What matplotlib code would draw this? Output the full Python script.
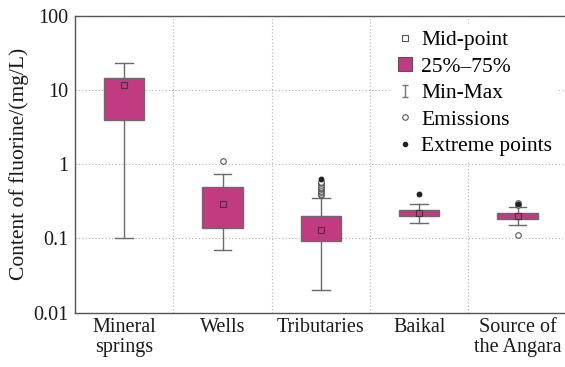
import matplotlib
matplotlib.use("Agg")
import matplotlib.pyplot as plt
from matplotlib.lines import Line2D
from matplotlib.path import Path

plt.rcParams['font.family'] = ['Liberation Serif', 'DejaVu Serif']

categories = ["Mineral\nsprings", "Wells", "Tributaries", "Baikal", "Source of\nthe Angara"]
q1 = [4.0, 0.136, 0.091, 0.20, 0.185]
q3 = [14.8, 0.50, 0.20, 0.24, 0.22]
midpoint = [11.9, 0.294, 0.128, 0.22, 0.20]
vmin = [0.10, 0.069, 0.020, 0.16, 0.15]
vmax = [23.4, 0.75, 0.35, 0.29, 0.265]
emissions = [[], [1.12],
             [0.38, 0.40, 0.42, 0.44, 0.46, 0.48, 0.50, 0.52, 0.55, 0.58],
             [], [0.28, 0.30, 0.11]]
extremes = [[], [], [0.63], [0.40], [0.29]]

box_color = "#C13A82"
edge_color = "#6a6a6a"

fig = plt.figure(figsize=(5.65, 3.67), dpi=100)
ax = fig.add_axes([75 / 565, 1 - 312.5 / 367, 1 - 75 / 565 + 0.003, 296.5 / 367])

stats = []
for i in range(len(categories)):
    stats.append(dict(med=midpoint[i], mean=midpoint[i], q1=q1[i], q3=q3[i],
                      whislo=vmin[i], whishi=vmax[i], fliers=emissions[i]))

positions = list(range(1, len(categories) + 1))
ax.bxp(stats, positions=positions, widths=0.41, capwidths=0.18,
       showmeans=True, patch_artist=True,
       boxprops=dict(facecolor=box_color, edgecolor=edge_color, linewidth=1.0),
       whiskerprops=dict(color=edge_color, linewidth=1.0),
       capprops=dict(color=edge_color, linewidth=1.0),
       medianprops=dict(linewidth=0),
       meanprops=dict(marker='s', markersize=4.5, markerfacecolor=box_color,
                      markeredgecolor="#3a3a3a", markeredgewidth=0.8),
       flierprops=dict(marker='o', markersize=4, markerfacecolor='white',
                       markeredgecolor="#555555", markeredgewidth=0.8),
       zorder=3)

for i, pts in enumerate(extremes):
    if pts:
        ax.plot([positions[i]] * len(pts), pts, linestyle='none', marker='o',
                markersize=3.2, color="#222222", zorder=4)

ax.set_yscale('log')
ax.set_ylim(0.01, 100)
ax.set_xlim(0.5, len(categories) + 0.5)
ax.set_yticks([0.01, 0.1, 1, 10, 100])
ax.set_yticklabels(["0.01", "0.1", "1", "10", "100"])
ax.yaxis.set_minor_locator(matplotlib.ticker.NullLocator())
ax.set_xticks(positions)
ax.set_xticklabels(categories, linespacing=1.05)
ax.set_xticks([p + 0.5 for p in positions[:-1]], minor=True)
ax.tick_params(axis='both', which='both', length=0, labelsize=14.5, colors='#1a1a1a')
ax.tick_params(axis='x', pad=4)
ax.tick_params(axis='y', pad=5)

ax.grid(True, axis='y', which='major', linestyle=(0, (1, 2)), color='#b5b5b5', linewidth=0.8)
ax.grid(True, axis='x', which='minor', linestyle=(0, (1, 2)), color='#b5b5b5', linewidth=0.8)
ax.grid(False, axis='x', which='major')
ax.set_axisbelow(True)

for side in ['left', 'bottom', 'top', 'right']:
    ax.spines[side].set_color('#555555')
    ax.spines[side].set_linewidth(1.0)

ax.set_ylabel("Content of fluorine/(mg/L)", fontsize=15.5, color='#1a1a1a', labelpad=3)

cap_path = Path([(-0.5, 1), (0.5, 1), (0, 1), (0, -1), (-0.5, -1), (0.5, -1)],
                [Path.MOVETO, Path.LINETO, Path.MOVETO, Path.LINETO, Path.MOVETO, Path.LINETO])
handles = [
    Line2D([], [], linestyle='none', marker='s', markersize=4.5, markerfacecolor='white',
           markeredgecolor='#555555', markeredgewidth=0.8),
    Line2D([], [], linestyle='none', marker='s', markersize=10, markerfacecolor=box_color,
           markeredgecolor='#555555', markeredgewidth=0.8),
    Line2D([], [], linestyle='none', marker=cap_path, markersize=9, markerfacecolor='none',
           markeredgecolor='#777777', markeredgewidth=1.0),
    Line2D([], [], linestyle='none', marker='o', markersize=4, markerfacecolor='white',
           markeredgecolor='#555555', markeredgewidth=0.8),
    Line2D([], [], linestyle='none', marker='o', markersize=3, color='#222222'),
]
labels = ["Mid-point", "25%\u201375%", "Min-Max", "Emissions", "Extreme points"]
leg = ax.legend(handles, labels, loc='upper right', bbox_to_anchor=(0.982, 0.97),
                fontsize=15.5, frameon=True, facecolor='white', edgecolor='none',
                framealpha=1.0, handlelength=0.7, handletextpad=0.4,
                labelspacing=0.3, borderpad=0.25, borderaxespad=0.0)
leg.set_zorder(5)

fig.savefig("out.png", dpi=100)
